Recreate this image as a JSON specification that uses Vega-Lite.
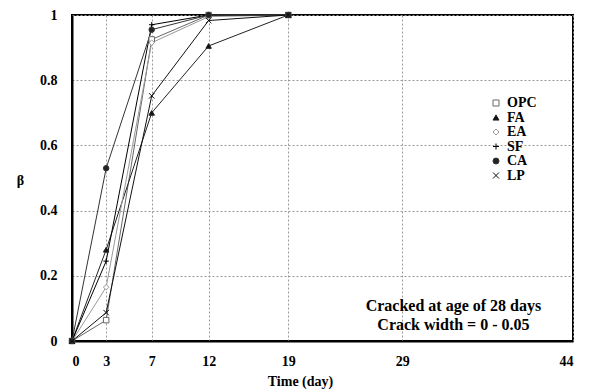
{
  "$schema": "https://vega.github.io/schema/vega-lite/v6.json",
  "width": 501,
  "height": 326,
  "autosize": "none",
  "padding": {"left": 72, "top": 15, "right": 19, "bottom": 51},
  "background": "white",
  "config": {
    "font": "Liberation Serif",
    "view": {"stroke": "#000", "strokeWidth": 2},
    "axis": {
      "labelFont": "Liberation Serif",
      "labelFontWeight": "bold",
      "labelFontSize": 14,
      "labelColor": "#000",
      "titleFont": "Liberation Serif",
      "titleFontWeight": "bold",
      "titleFontSize": 14,
      "titleColor": "#000",
      "gridColor": "#999",
      "gridDash": [2, 2],
      "gridWidth": 1,
      "domainColor": "#000",
      "domainWidth": 2,
      "ticks": false
    },
    "legend": {
      "labelFont": "Liberation Serif",
      "labelFontWeight": "bold",
      "labelFontSize": 14,
      "labelColor": "#000",
      "rowPadding": 0.5,
      "symbolSize": 36,
      "symbolStrokeWidth": 1,
      "labelOffset": 4
    }
  },
  "datasets": {
    "beta": [
      {"series": "OPC", "day": 0, "beta": 0},
      {"series": "OPC", "day": 3, "beta": 0.064},
      {"series": "OPC", "day": 7, "beta": 0.925},
      {"series": "OPC", "day": 12, "beta": 1.0},
      {"series": "OPC", "day": 19, "beta": 1.0},
      {"series": "FA", "day": 0, "beta": 0},
      {"series": "FA", "day": 3, "beta": 0.28},
      {"series": "FA", "day": 7, "beta": 0.70},
      {"series": "FA", "day": 12, "beta": 0.905},
      {"series": "FA", "day": 19, "beta": 1.0},
      {"series": "EA", "day": 0, "beta": 0},
      {"series": "EA", "day": 3, "beta": 0.165},
      {"series": "EA", "day": 7, "beta": 0.915},
      {"series": "EA", "day": 12, "beta": 0.995},
      {"series": "EA", "day": 19, "beta": 1.0},
      {"series": "SF", "day": 0, "beta": 0},
      {"series": "SF", "day": 3, "beta": 0.245},
      {"series": "SF", "day": 7, "beta": 0.97},
      {"series": "SF", "day": 12, "beta": 1.0},
      {"series": "SF", "day": 19, "beta": 1.0},
      {"series": "CA", "day": 0, "beta": 0},
      {"series": "CA", "day": 3, "beta": 0.53},
      {"series": "CA", "day": 7, "beta": 0.955},
      {"series": "CA", "day": 12, "beta": 1.0},
      {"series": "CA", "day": 19, "beta": 1.0},
      {"series": "LP", "day": 0, "beta": 0},
      {"series": "LP", "day": 3, "beta": 0.087},
      {"series": "LP", "day": 7, "beta": 0.752},
      {"series": "LP", "day": 12, "beta": 0.983},
      {"series": "LP", "day": 19, "beta": 1.0}
    ]
  },
  "layer": [
    {
      "data": {"name": "beta"},
      "mark": {"type": "line", "strokeWidth": 1},
      "encoding": {
        "x": {
          "field": "day", "type": "quantitative",
          "scale": {"domain": [0, 44], "nice": false, "zero": false},
          "axis": {"values": [0, 3, 7, 12, 19, 29, 44], "title": "Time (day)", "labelPadding": 13, "titlePadding": 6, "titleX": 228}
        },
        "y": {
          "field": "beta", "type": "quantitative",
          "scale": {"domain": [0, 1], "nice": false},
          "axis": {"values": [0, 0.2, 0.4, 0.6, 0.8, 1], "format": "~g", "title": "β", "labelPadding": 15, "titleAngle": 0, "titleX": -52, "titleY": 165, "titleAlign": "center", "titleBaseline": "middle"}
        },
        "stroke": {
          "field": "series", "type": "nominal",
          "scale": {"domain": ["OPC", "FA", "EA", "SF", "CA", "LP"], "range": ["#666", "#222", "#999", "#000", "#333", "#111"]},
          "legend": {"title": null, "orient": "none", "legendX": 417, "legendY": 81}
        },
        "order": {"field": "day", "type": "quantitative"}
      }
    },
    {
      "data": {"name": "beta"},
      "mark": {"type": "point", "filled": false, "strokeWidth": 1, "opacity": 1},
      "encoding": {
        "x": {"field": "day", "type": "quantitative"},
        "y": {"field": "beta", "type": "quantitative"},
        "stroke": {"field": "series", "type": "nominal", "legend": {"title": null, "orient": "none", "legendX": 417, "legendY": 81}},
        "fill": {
          "field": "series", "type": "nominal",
          "scale": {"domain": ["OPC", "FA", "EA", "SF", "CA", "LP"], "range": ["#fff", "#111", "#fff", "#000", "#222", "#111"]},
          "legend": {"title": null, "orient": "none", "legendX": 417, "legendY": 81}
        },
        "shape": {
          "field": "series", "type": "nominal",
          "scale": {"domain": ["OPC", "FA", "EA", "SF", "CA", "LP"], "range": ["square", "triangle-up", "diamond", "M-1,0L1,0M0,-1L0,1", "circle", "M-1,-1L1,1M-1,1L1,-1"]},
          "legend": {"title": null, "orient": "none", "legendX": 417, "legendY": 81}
        }
      }
    },
    {
      "data": {"values": [{"note": "Cracked at age of 28 days\nCrack width = 0 - 0.05"}]},
      "mark": {"type": "text", "lineBreak": "\n", "lineHeight": 19, "fontSize": 16, "fontWeight": "bold", "font": "Liberation Serif", "color": "#000", "align": "center", "baseline": "middle"},
      "encoding": {
        "x": {"datum": 33.5, "type": "quantitative"},
        "y": {"datum": 0.106, "type": "quantitative"},
        "text": {"field": "note", "type": "nominal"}
      }
    }
  ]
}
